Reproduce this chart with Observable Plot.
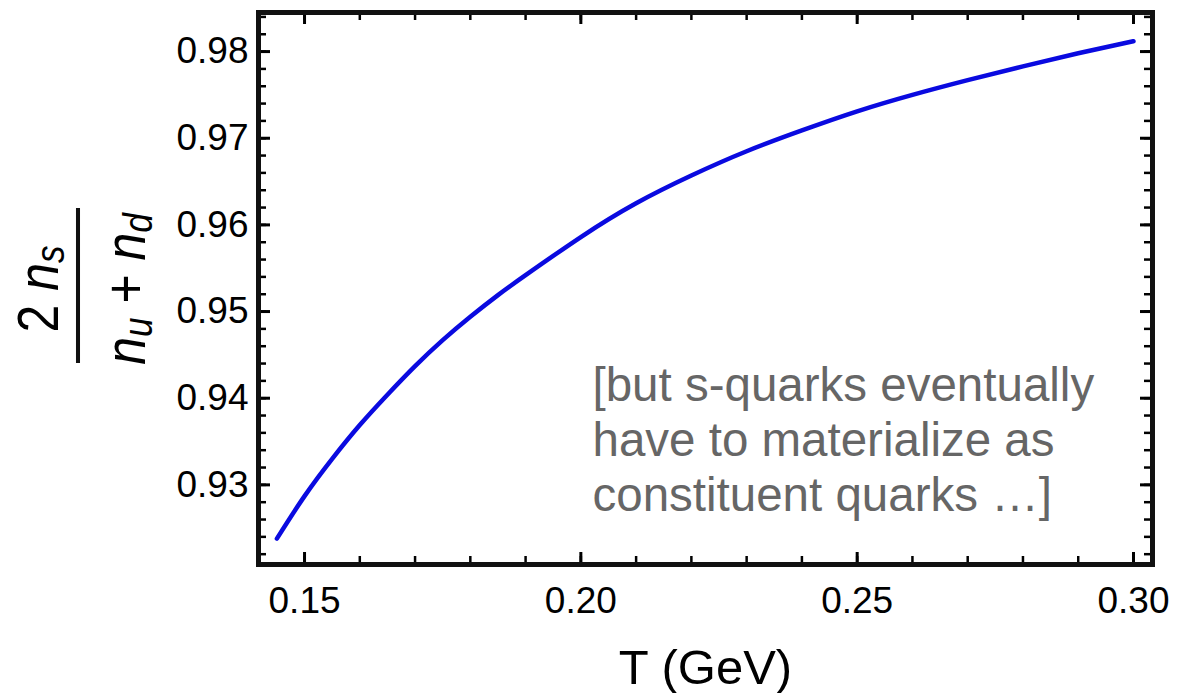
<!DOCTYPE html>
<html><head><meta charset="utf-8">
<script src="https://cdn.jsdelivr.net/npm/d3@7"></script>
<script src="https://cdn.jsdelivr.net/npm/@observablehq/plot@0.6"></script>
<style>
html,body{margin:0;padding:0;background:#fff;}
#chart svg{display:block;}
</style></head><body><div id="chart"></div>
<script>
// ---- data ----
const temperature = [0.145, 0.150, 0.155, 0.160, 0.165, 0.170, 0.175, 0.180, 0.185, 0.190, 0.200, 0.210, 0.220, 0.230, 0.240, 0.250, 0.260, 0.270, 0.280, 0.290, 0.300];
const ratio       = [0.9238, 0.9287, 0.9330, 0.9369, 0.9404, 0.9437, 0.9467, 0.9494, 0.9519, 0.9542, 0.9586, 0.9625, 0.9657, 0.9685, 0.9709, 0.9731, 0.9750, 0.9767, 0.9783, 0.9798, 0.9812];

const xTickValues = [0.15, 0.20, 0.25, 0.30];
const xTickLabels = ["0.15", "0.20", "0.25", "0.30"];
const yTickValues = [0.93, 0.94, 0.95, 0.96, 0.97, 0.98];
const yTickLabels = ["0.93", "0.94", "0.95", "0.96", "0.97", "0.98"];
const xMinorTicks = [0.15, 0.16, 0.17, 0.18, 0.19, 0.20, 0.21, 0.22, 0.23, 0.24, 0.25, 0.26, 0.27, 0.28, 0.29, 0.30];
const yMinorTicks = d3.range(0, 32).map(i => +(0.922 + 0.002 * i).toFixed(3));
const xDomain = [0.14167, 0.30344];
const yDomain = [0.92081, 0.98451];

const xLabel = "T (GeV)";
const annotationLines = ["[but s-quarks eventually", "have to materialize as", "constituent quarks …]"];

const data = temperature.map((t, i) => ({t, r: ratio[i]}));

const fontFamily = "'Liberation Sans', Arial, Helvetica, sans-serif";
const W = 1181, H = 693, mL = 258, mR = 29, mT = 12, mB = 129;
const frameW = W - mL - mR, frameH = H - mT - mB;
const tickColor = "#000";

// Mathematica-style ticks pointing inward on all four sides
const xTicks = (ticks, len, sw) => [
  Plot.tickX(ticks, {x: d => d, insetTop: frameH - len, stroke: tickColor, strokeWidth: sw}),
  Plot.tickX(ticks, {x: d => d, insetBottom: frameH - len, stroke: tickColor, strokeWidth: sw})
];
const yTicks = (ticks, len, sw) => [
  Plot.tickY(ticks, {y: d => d, insetRight: frameW - len, stroke: tickColor, strokeWidth: sw}),
  Plot.tickY(ticks, {y: d => d, insetLeft: frameW - len, stroke: tickColor, strokeWidth: sw})
];

const plot = Plot.plot({
  width: W, height: H,
  marginLeft: mL, marginRight: mR, marginTop: mT, marginBottom: mB,
  style: {fontFamily, background: "#fff", color: "#000"},
  x: {domain: xDomain},
  y: {domain: yDomain},
  marks: [
    Plot.line(data, {x: "t", y: "r", stroke: "#0a0ae0", strokeWidth: 4.5, curve: "natural"}),
    ...xTicks(xMinorTicks, 8, 2.5),
    ...xTicks(xTickValues, 12, 3),
    ...yTicks(yMinorTicks, 8, 2.5),
    ...yTicks(yTickValues, 12, 3),
    Plot.axisX(xTickValues, {anchor: "bottom", tickSize: 0, tickPadding: 22, fontSize: 37, label: null,
      tickFormat: d => xTickLabels[xTickValues.indexOf(d)]}),
    Plot.axisY(yTickValues, {anchor: "left", tickSize: 0, tickPadding: 10, fontSize: 37, label: null,
      tickFormat: d => yTickLabels[yTickValues.indexOf(d)]}),
    Plot.frame({stroke: "#111", strokeWidth: 5}),
    Plot.text([xLabel], {frameAnchor: "bottom", lineAnchor: "bottom", dy: 119, fontSize: 49, fill: "#000"}),
    Plot.text([annotationLines.join("\n")], {frameAnchor: "top-left", textAnchor: "start", lineAnchor: "top",
      dx: 334, dy: 349, fontSize: 47.5, lineHeight: 1.16, fill: "#666"})
  ]
});

// y-axis label: the fraction 2 n_s / (n_u + n_d), rotated
const svg = d3.select(plot);
const g = svg.append("g")
  .attr("transform", "translate(78,285.5) rotate(-90) scale(1,1.15)")
  .attr("font-family", fontFamily)
  .attr("fill", "#000");
g.append("line").attr("x1", -77.5).attr("x2", 77.5).attr("y1", 0).attr("y2", 0)
  .attr("stroke", "#111").attr("stroke-width", 3.5);
const num = g.append("text").attr("text-anchor", "middle").attr("x", -3.5).attr("y", -17.5).attr("font-size", 50);
num.append("tspan").text("2 ");
num.append("tspan").attr("font-style", "italic").text("n");
num.append("tspan").attr("font-size", 35).attr("font-style", "italic").attr("dy", 5).text("s");
const den = g.append("text").attr("text-anchor", "middle").attr("x", -3.5).attr("y", 58).attr("font-size", 50);
den.append("tspan").attr("font-style", "italic").text("n");
den.append("tspan").attr("font-size", 35).attr("font-style", "italic").attr("dy", 6).text("u");
den.append("tspan").attr("dy", -6).text(" + ");
den.append("tspan").attr("font-style", "italic").text("n");
den.append("tspan").attr("font-size", 35).attr("font-style", "italic").attr("dy", 6).text("d");

document.getElementById("chart").appendChild(plot);
</script>
</body></html>
